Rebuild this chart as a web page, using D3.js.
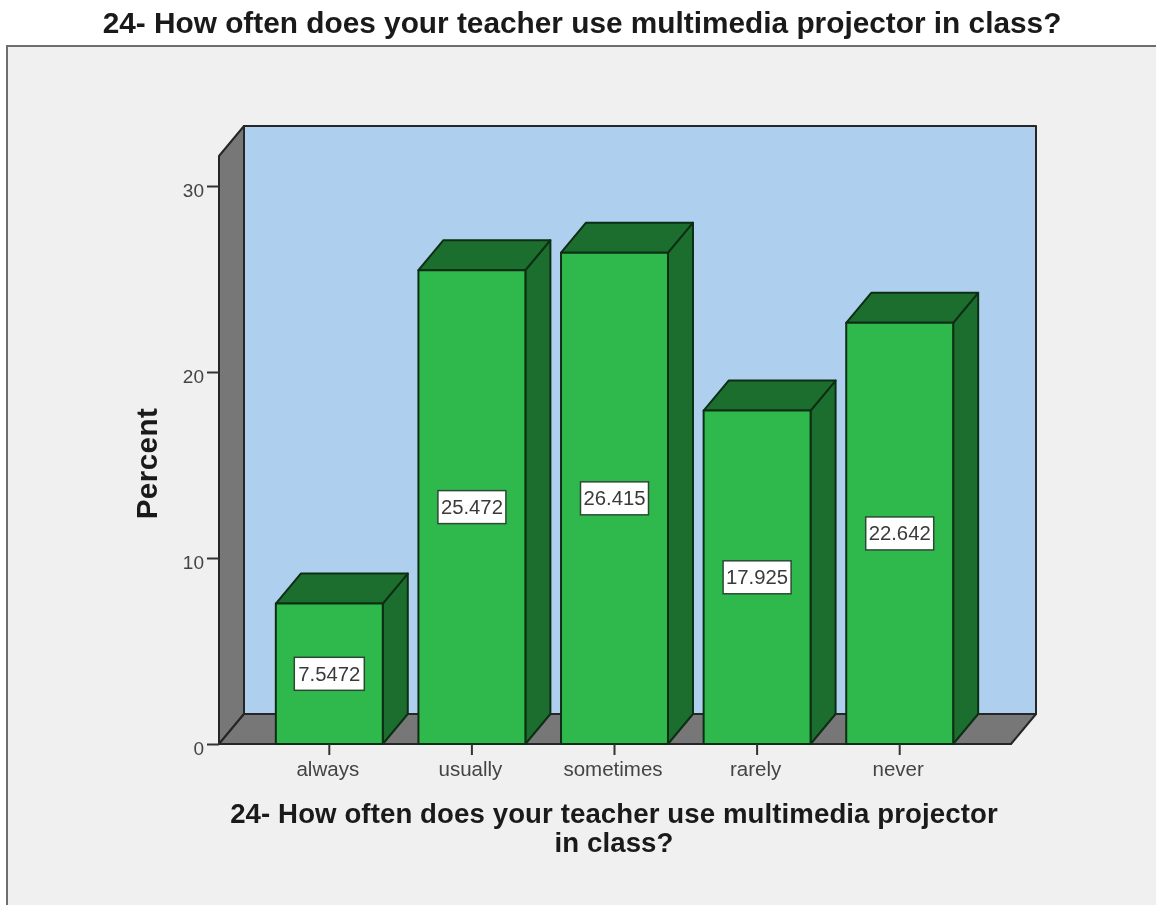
<!DOCTYPE html>
<html><head><meta charset="utf-8">
<script src="https://cdn.jsdelivr.net/npm/d3@7"></script>
<style>html,body{margin:0;padding:0;background:#fff}svg{display:block;filter:blur(0.5px)}text{font-family:"Liberation Sans",Arial,sans-serif}</style>
</head><body><script>
const categories = ["always","usually","sometimes","rarely","never"];
const percentValues = [7.5472,25.472,26.415,17.925,22.642];
const valueLabels = ["7.5472","25.472","26.415","17.925","22.642"];
const yTicks = [0,10,20,30];
const chartTitle = "24- How often does your teacher use multimedia projector in class?";
const xTitleLines = ["24- How often does your teacher use multimedia projector","in class?"];
const yTitle = "Percent";

const W=1156,H=907, dx=25, dy=30, ink="#262626";
const svg=d3.select("body").append("svg").attr("width",W).attr("height",H);
svg.append("rect").attr("width",W).attr("height",H).attr("fill","#fff");
svg.append("rect").attr("x",7).attr("y",46).attr("width",W).attr("height",H-48).attr("fill","#f0f0f0");
svg.append("path").attr("d",`M7,${H-2}V46H${W}`).attr("fill","none").attr("stroke","#6e6e6e").attr("stroke-width",2);
svg.append("text").attr("x",582).attr("y",33).attr("text-anchor","middle")
  .attr("font-size",29.8).attr("font-weight",700).attr("fill","#1a1a1a").text(chartTitle);

const y=d3.scaleLinear().domain([0,30]).range([744,186]);
const x=d3.scaleBand().domain(categories).range([258,971]).paddingInner(0.25).paddingOuter(0.125);
const left=219,right=1011,base=y(0),top3d=156;
const poly=(pts,fill,sw=2)=>svg.append("path").attr("d","M"+pts.map(p=>p.join(",")).join("L")+"Z")
  .attr("fill",fill).attr("stroke",ink).attr("stroke-width",sw).attr("stroke-linejoin","round");
poly([[left+dx,top3d-dy],[right+dx,top3d-dy],[right+dx,base-dy],[left+dx,base-dy]],"#aecfee");
poly([[left,top3d],[left+dx,top3d-dy],[left+dx,base-dy],[left,base]],"#777777");
poly([[left,base],[left+dx,base-dy],[right+dx,base-dy],[right,base]],"#777777");

const g=svg.append("g").selectAll("g").data(categories).join("g");
g.each(function(c,i){
  const s=d3.select(this),x0=x(c),x1=x0+x.bandwidth(),yt=y(percentValues[i]);
  const p=(pts,fill)=>s.append("path").attr("d","M"+pts.map(q=>q.join(",")).join("L")+"Z")
    .attr("fill",fill).attr("stroke","#0d2e14").attr("stroke-width",2).attr("stroke-linejoin","round");
  p([[x1,yt],[x1+dx,yt-dy],[x1+dx,base-dy],[x1,base]],"#1c6e2e");
  p([[x0,yt],[x0+dx,yt-dy],[x1+dx,yt-dy],[x1,yt]],"#1c6e2e");
  p([[x0,yt],[x1,yt],[x1,base],[x0,base]],"#2fb84c");
  const cx=(x0+x1)/2, cy=(yt+base)/2;
  const w=i===0?70:68, h=33;
  s.append("rect").attr("x",cx-w/2).attr("y",cy-h/2).attr("width",w).attr("height",h)
    .attr("fill","#fff").attr("stroke","#2c4a33").attr("stroke-width",1.5);
  s.append("text").attr("x",cx).attr("y",cy+7).attr("text-anchor","middle")
    .attr("font-size",20.3).attr("fill","#3a3a3a").text(valueLabels[i]);
});

const yAxis=d3.axisLeft(y).tickValues(yTicks).tickSize(12).tickPadding(3);
const ya=svg.append("g").attr("transform",`translate(${left},0)`).call(yAxis);
ya.select(".domain").remove();
ya.selectAll("line").attr("stroke","#333").attr("stroke-width",2);
ya.selectAll("text").attr("font-size",19).attr("fill","#444").attr("dy","1.0em").attr("y",-9);

const xAxis=d3.axisBottom(x).tickSize(11).tickPadding(6);
const xa=svg.append("g").attr("transform",`translate(0,${base})`).call(xAxis);
xa.select(".domain").remove();
xa.selectAll("line").attr("stroke","#333").attr("stroke-width",2);
xa.selectAll("text").attr("font-size",20.5).attr("fill","#444").attr("dx",-1.5);

svg.append("g").selectAll("text").data(xTitleLines).join("text")
  .attr("x",614).attr("y",(d,i)=>823+i*28.5).attr("text-anchor","middle")
  .attr("font-size",27.6).attr("font-weight",700).attr("fill","#1a1a1a").attr("letter-spacing",0.1).text(d=>d);
svg.append("text").attr("transform","translate(157,463.5) rotate(-90)").attr("text-anchor","middle")
  .attr("font-size",29.5).attr("font-weight",700).attr("fill","#1a1a1a").attr("letter-spacing",0.5).text(yTitle);
</script></body></html>
